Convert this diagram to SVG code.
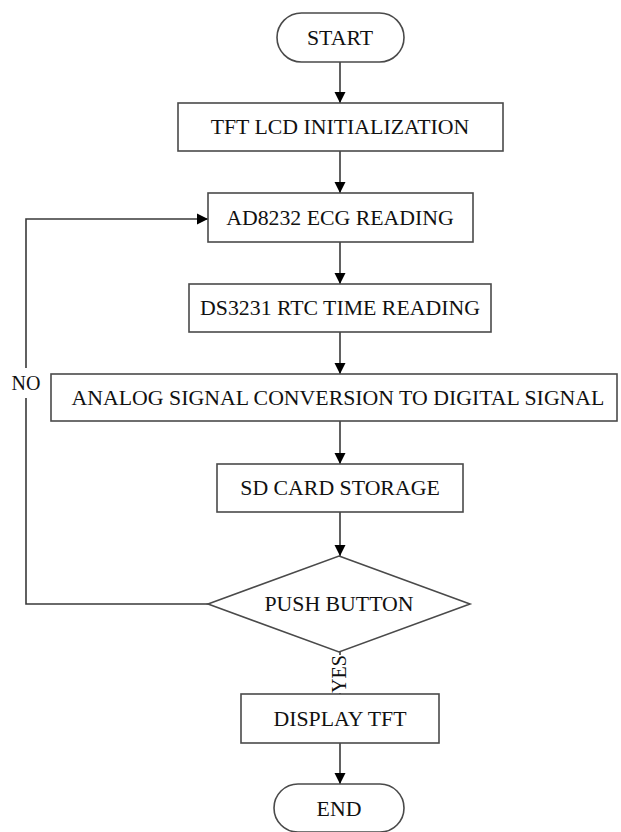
<svg xmlns="http://www.w3.org/2000/svg" width="621" height="832" viewBox="0 0 621 832">
<style>
.box{fill:#fff;stroke:#4a4a4a;stroke-width:1.6}
.t{font-family:"Liberation Serif",Tinos,"Times New Roman","DejaVu Serif",serif;font-size:21.8px;fill:#111;text-anchor:middle}
.c{fill:none;stroke:#3a3a3a;stroke-width:1.6}
</style>
<defs>
<marker id="ah" markerWidth="12" markerHeight="12" refX="11" refY="6" orient="auto" markerUnits="userSpaceOnUse">
<path d="M0,0.5 L11,6 L0,11.5 Z" fill="#000"/>
</marker>
</defs>
<rect width="621" height="832" fill="#fff"/>
<g id="connectors">
<line class="c" x1="340" y1="62" x2="340" y2="103" marker-end="url(#ah)"/>
<line class="c" x1="340" y1="151" x2="340" y2="193" marker-end="url(#ah)"/>
<line class="c" x1="340" y1="242" x2="340" y2="284" marker-end="url(#ah)"/>
<line class="c" x1="340" y1="332" x2="340" y2="374" marker-end="url(#ah)"/>
<line class="c" x1="340" y1="421" x2="340" y2="464" marker-end="url(#ah)"/>
<line class="c" x1="340" y1="512" x2="340" y2="556" marker-end="url(#ah)"/>
<line class="c" x1="340" y1="652" x2="340" y2="694"/>
<line class="c" x1="340" y1="743" x2="340" y2="784" marker-end="url(#ah)"/>
<polyline class="c" points="208,604 26,604 26,398"/>
<polyline class="c" points="26,368 26,219 208,219" marker-end="url(#ah)"/>
<text class="t" x="26" y="390" style="font-size:20px">NO</text>
<rect x="330" y="655" width="18" height="38" fill="#fff"/>
<text class="t" transform="translate(346,674) rotate(-90)" x="0" y="0" style="font-size:20px">YES</text>
</g>
<g id="start"><rect class="box" x="277" y="13" width="127" height="49" rx="24.5"/><text class="t" x="340" y="45">START</text></g>
<g id="tft-init"><rect class="box" x="178" y="103" width="325" height="48"/><text class="t" x="340" y="134">TFT LCD INITIALIZATION</text></g>
<g id="ecg"><rect class="box" x="208" y="193" width="265" height="49"/><text class="t" x="340" y="225">AD8232 ECG READING</text></g>
<g id="rtc"><rect class="box" x="189" y="284" width="302" height="48"/><text class="t" x="340" y="315">DS3231 RTC TIME READING</text></g>
<g id="adc"><rect class="box" x="51" y="374" width="566" height="47"/><text class="t" x="338" y="405">ANALOG SIGNAL CONVERSION TO DIGITAL SIGNAL</text></g>
<g id="sd"><rect class="box" x="217" y="464" width="246" height="48"/><text class="t" x="340" y="495">SD CARD STORAGE</text></g>
<g id="button"><polygon class="box" points="339,556 470,604 339,652 208,604"/><text class="t" x="339" y="611">PUSH BUTTON</text></g>
<g id="display"><rect class="box" x="241" y="694" width="198" height="49"/><text class="t" x="340" y="726">DISPLAY TFT</text></g>
<g id="end"><rect class="box" x="274" y="784" width="130" height="48" rx="24"/><text class="t" x="339" y="816">END</text></g>
</svg>
